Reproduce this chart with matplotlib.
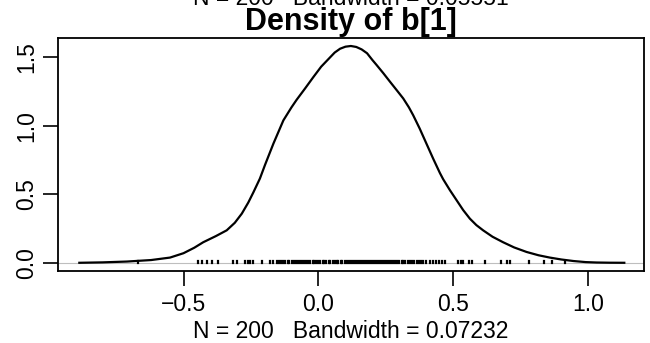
import matplotlib
matplotlib.use("Agg")
import matplotlib.pyplot as plt

plt.rcParams['font.family'] = ['Liberation Sans', 'DejaVu Sans']

# Kernel density estimate of b[1] (x grid and density values)
density_x = [-0.886, -0.80, -0.71, -0.62, -0.55, -0.50, -0.46, -0.427, -0.38, -0.34,
             -0.31, -0.284, -0.26, -0.241, -0.217, -0.198, -0.167, -0.130, -0.100, -0.081,
             -0.050, -0.019, 0.010, 0.043, 0.060, 0.080, 0.100, 0.120, 0.140, 0.160,
             0.180, 0.200, 0.215, 0.240, 0.265, 0.290, 0.314, 0.335, 0.351, 0.375,
             0.400, 0.425, 0.450, 0.462, 0.487, 0.512, 0.536, 0.561, 0.585, 0.610,
             0.645, 0.684, 0.725, 0.771, 0.815, 0.857, 0.900, 0.944, 0.990, 1.030,
             1.080, 1.133]
density_y = [0.000, 0.003, 0.009, 0.020, 0.038, 0.070, 0.110, 0.150, 0.195, 0.237,
             0.292, 0.359, 0.440, 0.515, 0.615, 0.715, 0.870, 1.040, 1.135, 1.190,
             1.272, 1.356, 1.432, 1.500, 1.535, 1.563, 1.578, 1.583, 1.576, 1.558,
             1.530, 1.480, 1.445, 1.385, 1.322, 1.260, 1.200, 1.135, 1.077, 0.980,
             0.870, 0.760, 0.655, 0.610, 0.530, 0.456, 0.385, 0.322, 0.275, 0.237,
             0.190, 0.150, 0.112, 0.079, 0.055, 0.038, 0.024, 0.013, 0.005, 0.002,
             0.0005, 0.000]

# Observed draws shown as a rug along the zero line
observations = [-0.669, -0.447, -0.433, -0.414, -0.396, -0.371, -0.316, -0.301, -0.272,
                -0.262, -0.252, -0.243, -0.210, -0.180, -0.167,
                -0.155, -0.147, -0.139, -0.130, -0.123, -0.114, -0.108, -0.099, -0.090,
                -0.084, -0.076, -0.069, -0.060, -0.054, -0.045, -0.038, -0.031, -0.022,
                -0.016, -0.008, -0.001, 0.007, 0.015, 0.022, 0.029, 0.038, 0.044, 0.052,
                0.060, 0.067, 0.074, 0.083, 0.089, 0.097, 0.105, 0.112, 0.119, 0.128,
                0.134, 0.142, 0.150, 0.157, 0.164, 0.173, 0.179, 0.187, 0.195, 0.202,
                0.209, 0.218, 0.224, 0.232, 0.240, 0.247, 0.254, 0.263, 0.269, 0.277,
                0.285, 0.292, 0.299, 0.308, 0.314, 0.322, 0.331, 0.338, 0.347, 0.355,
                0.364, 0.372, 0.381, 0.389, 0.398,
                0.413, 0.425, 0.436, 0.447, 0.458, 0.469,
                0.518, 0.527, 0.534, 0.559, 0.569, 0.618, 0.677, 0.698, 0.708,
                0.779, 0.835, 0.864, 0.913]

x_ticks = [-0.5, 0.0, 0.5, 1.0]
x_tick_labels = ["\u22120.5", "0.0", "0.5", "1.0"]
y_ticks = [0.0, 0.5, 1.0, 1.5]
y_tick_labels = ["0.0", "0.5", "1.0", "1.5"]

title = "Density of b[1]"
x_label = "N = 200   Bandwidth = 0.07232"
prev_label = "N = 200   Bandwidth = 0.05551"

W, H = 650, 343
fig = plt.figure(figsize=(W / 100, H / 100), dpi=100)
left, right, top, bottom = 58, 644, 37.5, 271
ax = fig.add_axes([left / W, 1 - bottom / H, (right - left) / W, (bottom - top) / H])

ax.axhline(0, color="#bebebe", lw=0.8, zorder=1)
ax.plot(density_x, density_y, color="black", lw=1.6, zorder=3,
        solid_joinstyle="round")
rug_top = max(density_y) / 100
rug = ax.vlines(observations, 0, rug_top, color="black", lw=1.6, zorder=2)
rug.set_capstyle("projecting")

ax.set_xlim(-0.965, 1.206)
ax.set_ylim(-0.060, 1.645)

ax.set_xticks(x_ticks)
ax.set_xticklabels(x_tick_labels)
ax.set_yticks(y_ticks)
ax.set_yticklabels(y_tick_labels, rotation=90, va="center")
ax.tick_params(axis="both", direction="out", length=10.5, width=1.2,
               labelsize=16.5, color="black")
ax.tick_params(axis="x", pad=5)
ax.tick_params(axis="y", pad=4)
for s in ax.spines.values():
    s.set_linewidth(1.3)

ax.set_xlabel(x_label, fontsize=16.5, labelpad=3)
ax.set_title(title, fontsize=22, fontweight="bold", pad=0)

# label of the panel above, cut at the top edge of the page
fig.text((left + right) / 2 / W, 1 - 5 / H, prev_label, ha="center", va="baseline",
         fontsize=16.5)

fig.savefig("out.png", dpi=100)
